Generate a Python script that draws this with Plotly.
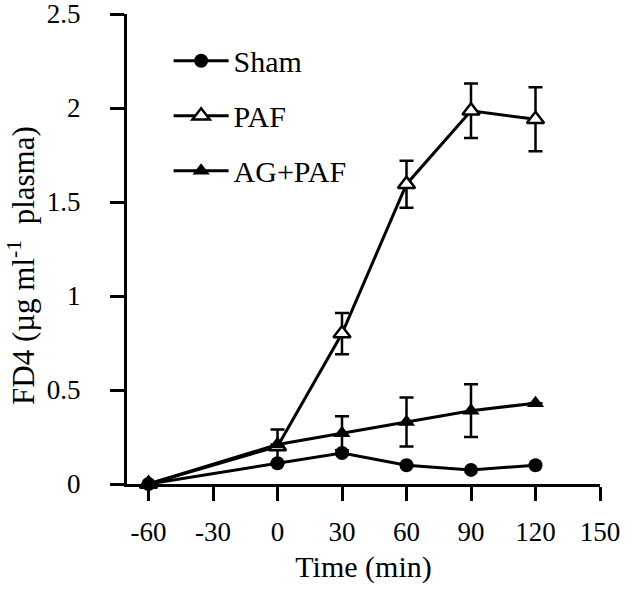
import plotly.graph_objects as go

time = [-60, 0, 30, 60, 90, 120]
sham = [0.0, 0.11, 0.165, 0.10, 0.075, 0.10]
paf = [0.0, 0.20, 0.80, 1.595, 1.985, 1.94]
paf_err = [0.0, 0.09, 0.11, 0.125, 0.145, 0.17]
agpaf = [0.0, 0.21, 0.27, 0.33, 0.39, 0.43]
agpaf_err = [0.0, 0.0, 0.09, 0.13, 0.14, 0.0]

xticks = [-60, -30, 0, 30, 60, 90, 120, 150]
xtick_text = ["-60", "-30", "0", "30", "60", "90", "120", "150"]
yticks = [0, 0.5, 1, 1.5, 2, 2.5]
ytick_text = ["0", "0.5", "1", "1.5", "2", "2.5"]

FONT = "Liberation Serif"
fig = go.Figure()

fig.add_trace(go.Scatter(
    x=time, y=paf, name="PAF", mode="lines+markers", legendgroup="b", legendrank=2,
    line=dict(color="black", width=3),
    marker=dict(symbol="triangle-up", size=15, color="white",
                line=dict(color="black", width=2.5)),
    error_y=dict(type="data", array=paf_err, visible=True, color="black",
                 thickness=2.5, width=7),
    cliponaxis=False,
))
fig.add_trace(go.Scatter(
    x=time, y=agpaf, name="AG+PAF", mode="lines+markers", legendgroup="c", legendrank=3,
    line=dict(color="black", width=3),
    marker=dict(symbol="triangle-up", size=15, color="black"),
    error_y=dict(type="data", array=agpaf_err, visible=True, color="black",
                 thickness=2.5, width=7),
    cliponaxis=False,
))
fig.add_trace(go.Scatter(
    x=time, y=sham, name="Sham", mode="lines+markers", legendgroup="a", legendrank=1,
    line=dict(color="black", width=3),
    marker=dict(symbol="circle", size=14, color="black"),
    cliponaxis=False,
))

fig.add_annotation(
    text="FD4 (µg ml<sup>-1</sup>  plasma)", textangle=-90,
    xref="paper", yref="paper", x=-0.222, y=0.466,
    xanchor="center", yanchor="middle", showarrow=False,
    font=dict(family=FONT, size=31, color="black"),
)

fig.update_layout(
    width=640, height=592,
    margin=dict(l=127, r=40, t=14, b=108),
    paper_bgcolor="white", plot_bgcolor="white",
    font=dict(family=FONT, size=27, color="black"),
    showlegend=True,
    legend=dict(x=0.088, y=0.956, xanchor="left", yanchor="top",
                bgcolor="rgba(0,0,0,0)", font=dict(family=FONT, size=30),
                tracegroupgap=13, itemwidth=55, traceorder="grouped"),
    xaxis=dict(
        range=[-70, 150], tickmode="array", tickvals=xticks, ticktext=xtick_text,
        showgrid=False, zeroline=False, showline=True, linecolor="black",
        linewidth=3, ticks="outside", ticklen=14, tickwidth=3,
        tickcolor="black", ticklabelstandoff=8, automargin=False,
        title=dict(text="Time (min)", font=dict(family=FONT, size=30), standoff=10),
    ),
    yaxis=dict(
        range=[0, 2.5], tickmode="array", tickvals=yticks, ticktext=ytick_text,
        showgrid=False, zeroline=False, showline=True, linecolor="black",
        linewidth=3, ticks="outside", ticklen=14, tickwidth=3,
        tickcolor="black", ticklabelstandoff=24, ticklabeloverflow="allow",
        automargin=False,
    ),
)

fig.write_html("out.html", config={"displayModeBar": False},
               post_script="document.body.style.margin='0';")
